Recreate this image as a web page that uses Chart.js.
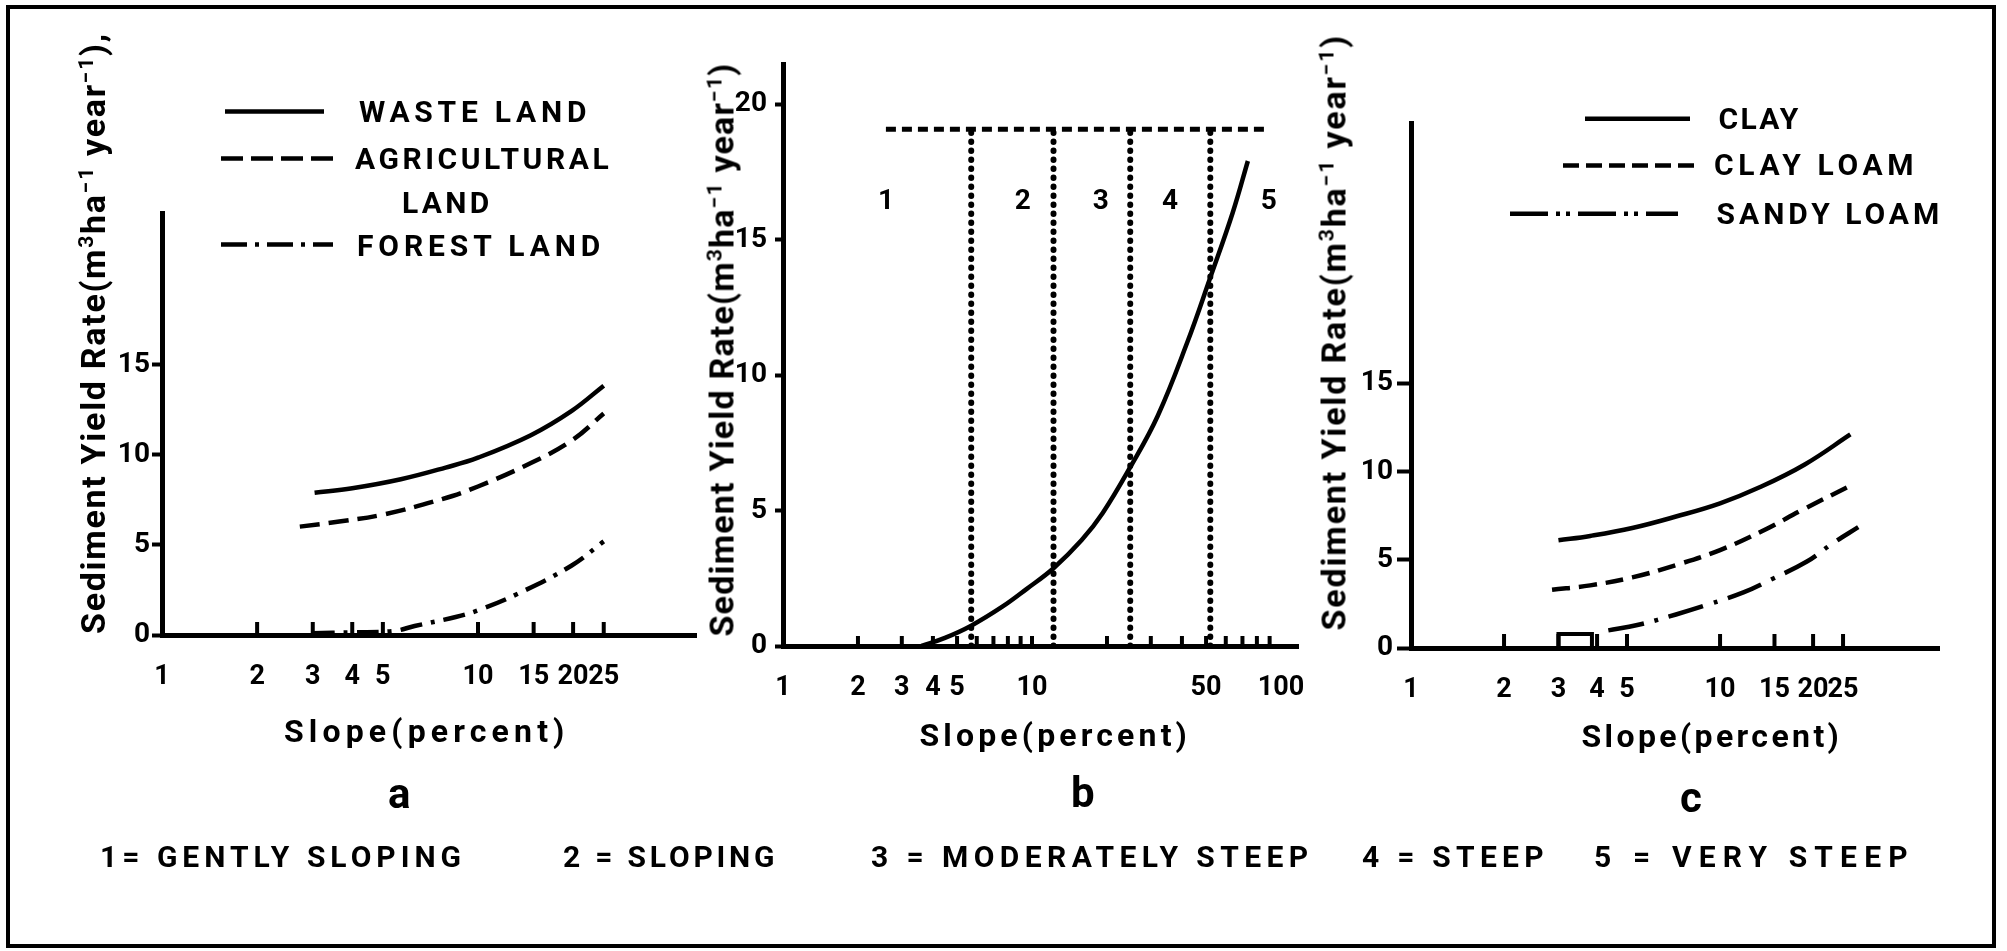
<!DOCTYPE html>
<html><head><meta charset="utf-8">
<script src="https://cdn.jsdelivr.net/npm/chart.js@4.4.1/dist/chart.umd.min.js"></script>
<style>
html,body{margin:0;padding:0;background:#fff;}
#page{position:relative;width:2007px;height:951px;overflow:hidden;background:#fff;font-family:Roboto,"DejaVu Sans",sans-serif;font-weight:700;color:#000;}
canvas{position:absolute;left:0;top:0;}
.t{position:absolute;white-space:nowrap;line-height:1;font-weight:700;font-family:Roboto,"DejaVu Sans",sans-serif;}
.t sup{font-size:62%;line-height:0;vertical-align:0.55em;}
#frame{position:absolute;left:6px;top:5px;width:1982px;height:935px;border:4px solid #000;}
</style></head>
<body><div id="page"><div id="frame"></div>
<canvas id="ca" width="2007" height="951"></canvas>
<canvas id="cb" width="2007" height="951"></canvas>
<canvas id="cc" width="2007" height="951"></canvas>
<canvas id="keys" width="2007" height="951"></canvas>
</div>
<script>
// ---------- DATA ----------
// Panel a: land use
const aWasteSlope = [3.04, 4.0, 5.7, 7.9, 10, 14.7, 19.8, 25];
const aWasteRate  = [7.9, 8.15, 8.65, 9.3, 9.85, 11.1, 12.45, 13.85];
const aAgriSlope  = [2.73, 3.64, 5.04, 7.7, 10, 14.7, 19.8, 25];
const aAgriRate   = [6.02, 6.3, 6.7, 7.55, 8.25, 9.55, 10.8, 12.3];
const aForestSlope = [3.0, 4.0, 5.4, 6.3, 8.5, 10, 13.4, 19.8, 25];
const aForestRate  = [0.1, 0.15, 0.22, 0.5, 1.0, 1.37, 2.3, 3.86, 5.2];
// Panel b: overall curve and slope classes
const bSlope = [3.6, 4.47, 5.7, 7.6, 9.5, 12.2, 15.8, 19.2, 24.8, 32, 42, 52, 64, 73.6];
const bRate  = [0, 0.3, 0.75, 1.45, 2.1, 2.87, 3.9, 4.9, 6.6, 8.5, 11.2, 13.6, 16.0, 17.9];
const bClassBounds = [5.7, 12.2, 24.8, 52];
const bClassTop = 19.07;
const bClassLineFrom = 2.59, bClassLineTo = 89.3;
const bClassLabels = ['1', '2', '3', '4', '5'];
const bClassLabelSlope = [2.59, 9.18, 18.9, 35.8, 89.3];
const bClassLabelRate = 16.4;
// Panel c: soil texture
const cClaySlope = [3.0, 3.8, 5.2, 7.2, 10, 13.6, 18.8, 26.4];
const cClayRate  = [6.1, 6.35, 6.8, 7.45, 8.2, 9.15, 10.4, 12.1];
const cClayLoamSlope = [2.86, 3.8, 5.2, 7.2, 10, 13.6, 18.8, 26.8];
const cClayLoamRate  = [3.3, 3.55, 4.0, 4.7, 5.55, 6.6, 7.9, 9.25];
const cSandySlope = [4.35, 5.4, 7.2, 9.1, 11.9, 14.5, 19.1, 23, 28];
const cSandyRate  = [1.0, 1.3, 1.9, 2.45, 3.15, 3.85, 4.9, 5.9, 6.85];
const cBoxSlope = [3.0, 3.0, 3.85, 3.85];
const cBoxRate  = [0, 0.8, 0.8, 0];
// Axis ticks
const aXLabels = [1, 2, 3, 4, 5, 10, 15, 20, 25];
const aXMarks  = [2, 3, 4, 5, 10, 15, 20, 25];
const bXLabels = [1, 2, 3, 4, 5, 10, 50, 100];
const bXMarks  = [2, 3, 4, 5, 6, 7, 8, 9, 10, 20, 30, 40, 50, 60, 70, 80, 90];
const cXLabels = [1, 2, 3, 4, 5, 10, 15, 20, 25];
const cXMarks  = [2, 3, 4, 5, 10, 15, 20, 25];
const aYTicks = [0, 5, 10, 15];
const bYTicks = [0, 5, 10, 15, 20];
const cYTicks = [0, 5, 10, 15];

// ---------- HELPERS ----------
const pts = (xs, ys) => xs.map((x, i) => ({x: x, y: ys[i]}));
function series(xs, ys, dash, extra) {
  return Object.assign({
    data: pts(xs, ys), borderColor: '#000', borderWidth: 4.5, borderDash: dash || [],
    pointRadius: 0, fill: false, tension: 0.4, borderCapStyle: 'butt'
  }, extra || {});
}
const extrasPlugin = {
  id: 'extras',
  afterDatasetsDraw(chart, args, o) {
    const ctx = chart.ctx, area = chart.chartArea, x = chart.scales.x, y = chart.scales.y;
    ctx.save();
    ctx.strokeStyle = '#000'; ctx.lineWidth = o.markWidth || 4;
    (o.marks || []).forEach(v => {
      const px = x.getPixelForValue(v);
      ctx.beginPath(); ctx.moveTo(px, area.bottom); ctx.lineTo(px, area.bottom - o.markLen); ctx.stroke();
    });
    if (o.labels) {
      ctx.fillStyle = '#000'; ctx.font = 'bold 28px Roboto'; ctx.textAlign = 'center'; ctx.textBaseline = 'middle';
      o.labels.forEach((t, i) => ctx.fillText(t, x.getPixelForValue(o.labelX[i]), y.getPixelForValue(o.labelY)));
    }
    ctx.restore();
  }
};
const xTickFont = {family: 'Roboto', size: 27, weight: 'bold'};
const yTickFont = {family: 'Roboto', size: 28, weight: 'bold'};
function makeChart(id, c) {
  const allX = Array.from(new Set([].concat(c.xLabels, c.xMarks))).sort((p, q) => p - q);
  return new Chart(document.getElementById(id), {
    type: 'line',
    data: {datasets: c.datasets},
    options: {
      responsive: false, animation: false, events: [],
      layout: {padding: {left: c.L - 70, right: 2007 - c.R, top: c.T, bottom: 951 - c.B - 70}},
      plugins: {legend: {display: false}, tooltip: {enabled: false},
        extras: {marks: c.xMarks, markLen: c.markLen, labels: c.labels, labelX: c.labelX, labelY: c.labelY}},
      scales: {
        x: {type: 'logarithmic', min: 1, max: c.xMax, bounds: 'data',
          afterFit: s => { s.height = 70; },
          afterBuildTicks: s => { s.ticks = allX.map(v => ({value: v})); },
          ticks: {autoSkip: false, maxRotation: 0, minRotation: 0, padding: 18, color: '#000', font: xTickFont,
            callback: v => c.xLabels.indexOf(v) >= 0 ? String(v) : ''},
          grid: {display: false},
          border: {display: true, color: '#000', width: 5}},
        y: {type: 'linear', min: 0, max: c.yMax, bounds: 'data',
          afterFit: s => { s.width = 70; },
          afterBuildTicks: s => { s.ticks = c.yTicks.map(v => ({value: v})); },
          ticks: {padding: c.yPad, color: '#000', font: yTickFont, autoSkip: false},
          grid: {display: true, drawOnChartArea: false, drawTicks: true, tickLength: c.yTickLen, tickWidth: 4, tickColor: '#000'},
          border: {display: true, color: '#000', width: 5}}
      }
    },
    plugins: [extrasPlugin]
  });
}

// ---------- CHARTS ----------
makeChart('ca', {
  L: 162, R: 696, T: 213, B: 635, xMax: 48.97, yMax: 23.44, yTicks: aYTicks, yPad: 2, yTickLen: 10,
  xLabels: aXLabels, xMarks: aXMarks, markLen: 13,
  datasets: [
    series(aWasteSlope, aWasteRate),
    series(aAgriSlope, aAgriRate, [20, 9]),
    series(aForestSlope, aForestRate, [22, 9, 4, 9])
  ]
});

const bDatasets = [series(bSlope, bRate)];
bDatasets.push(series([bClassLineFrom, bClassLineTo], [bClassTop, bClassTop], [10, 6], {borderWidth: 5, tension: 0}));
bClassBounds.forEach(v => bDatasets.push(series([v, v], [0, bClassTop], [0.5, 8.5],
  {borderWidth: 6, borderCapStyle: 'round', tension: 0})));
makeChart('cb', {
  L: 783, R: 1298, T: 64, B: 646, xMax: 117, yMax: 21.48, yTicks: bYTicks, yPad: 8, yTickLen: 8,
  xLabels: bXLabels, xMarks: bXMarks, markLen: 10,
  labels: bClassLabels, labelX: bClassLabelSlope, labelY: bClassLabelRate,
  datasets: bDatasets
});

makeChart('cc', {
  L: 1411, R: 1939, T: 123, B: 648, xMax: 51.1, yMax: 29.75, yTicks: cYTicks, yPad: 4, yTickLen: 14,
  xLabels: cXLabels, xMarks: cXMarks, markLen: 14,
  datasets: [
    series(cClaySlope, cClayRate),
    series(cClayLoamSlope, cClayLoamRate, [18, 9]),
    series(cSandySlope, cSandyRate, [36, 11, 4, 11]),
    series(cBoxSlope, cBoxRate, [], {borderWidth: 4, tension: 0})
  ]
});

// ---------- LEGEND KEYS ----------
const k = document.getElementById('keys').getContext('2d');
function key(x1, x2, y, dash) {
  k.beginPath(); k.setLineDash(dash); k.lineWidth = 4.5; k.strokeStyle = '#000';
  k.moveTo(x1, y); k.lineTo(x2, y); k.stroke();
}
key(225, 324, 111.6, []);
key(221, 333, 158.5, [22, 8]);
key(221, 333, 244.6, [26, 8, 4, 8]);
key(1585, 1690, 118.7, []);
key(1563, 1701, 165.4, [16, 7]);
key(1510, 1678, 213.7, [38, 8, 4, 6, 4, 8]);

// ---------- TEXT ----------
const page = document.getElementById('page');
function addText(html, cx, cy, size, width, rot) {
  const d = document.createElement('div');
  d.className = 't';
  d.style.fontSize = size + 'px';
  d.innerHTML = html;
  page.appendChild(d);
  const n = d.textContent.length;
  let vis = d.offsetWidth;
  if (width) {
    const ls = (width - vis) / Math.max(n - 1, 1);
    d.style.letterSpacing = ls + 'px';
    vis = width;
  }
  const h = d.offsetHeight;
  d.style.left = (cx - vis / 2) + 'px';
  d.style.top = (cy - h / 2) + 'px';
  if (rot) {
    d.style.transformOrigin = (vis / 2) + 'px ' + (h / 2) + 'px';
    d.style.transform = 'rotate(' + rot + 'deg)';
  }
}
const yTitle = 'Sediment Yield Rate(m<sup>3</sup>ha<sup>&minus;1</sup> year<sup>&minus;1</sup>)';
addText(yTitle + ',', 93, 334, 34, 600, -90);
addText(yTitle, 721, 350, 34, 573, -90);
addText(yTitle, 1333, 333, 34, 595, -90);

addText('WASTE LAND', 473, 112, 30, 228);
addText('AGRICULTURAL', 482, 158.5, 30, 254);
addText('LAND', 445.5, 203, 30, 87);
addText('FOREST LAND', 478.5, 245.5, 30, 243);
addText('CLAY', 1758.5, 118.7, 30, 80);
addText('CLAY LOAM', 1813.5, 165.4, 30, 199);
addText('SANDY LOAM', 1828, 213.7, 30, 223);

addText('Slope(percent)', 424, 731, 32, 280);
addText('Slope(percent)', 1053, 735, 32, 267);
addText('Slope(percent)', 1710, 736, 32, 257);

addText('a', 399, 794, 42);
addText('b', 1083, 793, 42);
addText('c', 1691, 798, 42);

addText('1= GENTLY SLOPING', 280.5, 857, 30, 361);
addText('2 = SLOPING', 669, 857, 30, 212);
addText('3 = MODERATELY STEEP', 1089.5, 857, 30, 437);
addText('4 = STEEP', 1452.5, 857, 30, 181);
addText('5 = VERY STEEP', 1751, 857, 30, 314);
</script>
</body></html>
